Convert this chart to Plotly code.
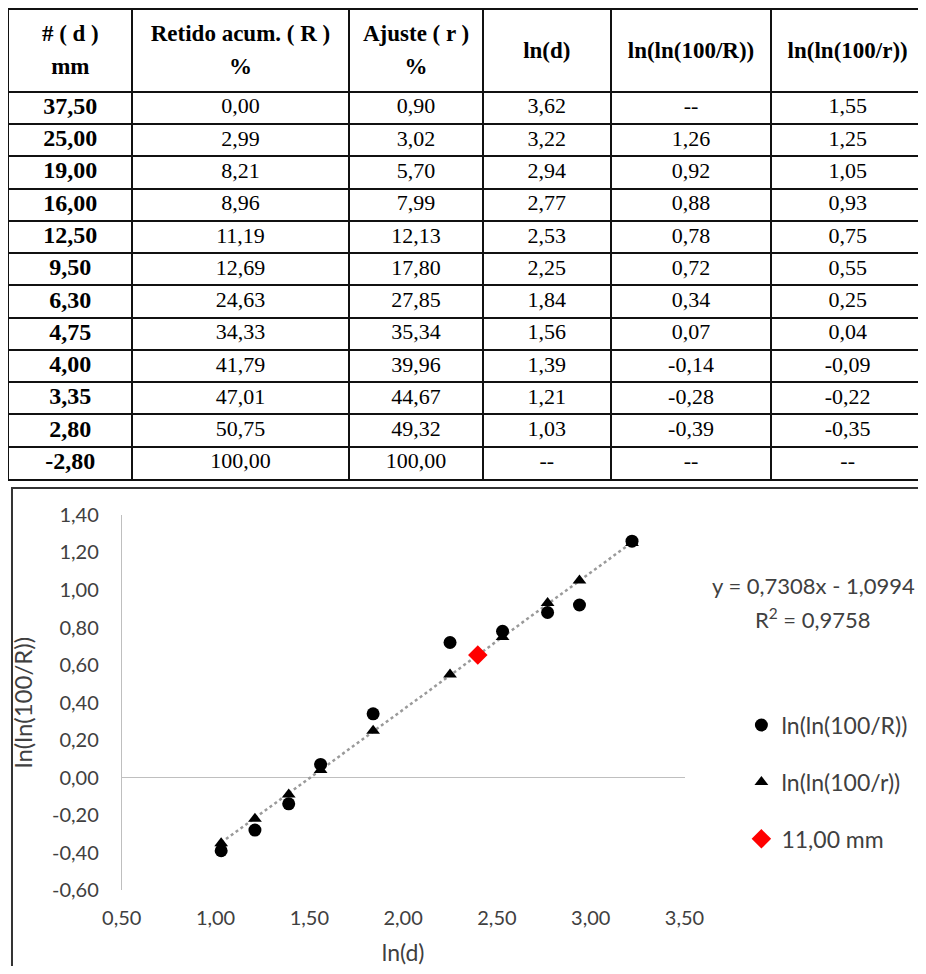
import math
import plotly.graph_objects as go

# page is rendered with the browser's 8px body margin; compensate for it
OFF = 8
PAGE_W, PAGE_H = 926, 974
W, H = PAGE_W - OFF, PAGE_H - 2 * OFF

# ---- data ----
sizes_mm = [37.50, 25.00, 19.00, 16.00, 12.50, 9.50, 6.30, 4.75, 4.00, 3.35, 2.80, -2.80]
retido_R = [0.00, 2.99, 8.21, 8.96, 11.19, 12.69, 24.63, 34.33, 41.79, 47.01, 50.75, 100.00]
ajuste_r = [0.90, 3.02, 5.70, 7.99, 12.13, 17.80, 27.85, 35.34, 39.96, 44.67, 49.32, 100.00]
ln_d = [3.62, 3.22, 2.94, 2.77, 2.53, 2.25, 1.84, 1.56, 1.39, 1.21, 1.03, None]
lnln_R = [None, 1.26, 0.92, 0.88, 0.78, 0.72, 0.34, 0.07, -0.14, -0.28, -0.39, None]
lnln_r = [1.55, 1.25, 1.05, 0.93, 0.75, 0.55, 0.25, 0.04, -0.09, -0.22, -0.35, None]

header_labels = ["# ( d )<br>mm", "Retido acum. ( R )<br>%", "Ajuste ( r )<br>%",
                 "ln(d)", "ln(ln(100/R))", "ln(ln(100/r))"]

x_ticks = [0.50, 1.00, 1.50, 2.00, 2.50, 3.00, 3.50]
y_ticks = [-0.60, -0.40, -0.20, 0.00, 0.20, 0.40, 0.60, 0.80, 1.00, 1.20, 1.40]

trend_slope = 0.7308
trend_intercept = -1.0994
trend_r2 = 0.9758
selected_size = 11.00

series_names = ["ln(ln(100/R))", "ln(ln(100/r))", "11,00 mm"]

# ---- layout constants (page pixels) ----
col_widths = [123, 218, 134, 128, 161, 153]
header_h = 82
row_h = 32.33
TABLE_LEFT, TABLE_TOP = 9, 8


def px(x):
    return (x - OFF) / W


def py(y):
    return 1 - (y - OFF) / H


def fmt(v, nd=2):
    return "--" if v is None else f"{v:.{nd}f}".replace(".", ",")


fig = go.Figure()

# ---- table drawn on its own axis pair ----
bounds_x = [0]
for w in col_widths:
    bounds_x.append(bounds_x[-1] + w)
n_rows = len(sizes_mm)
bounds_y = [0, header_h] + [header_h + row_h * (i + 1) for i in range(n_rows)]
table_w = bounds_x[-1]
table_h = bounds_y[-1]
col_centers = [(bounds_x[j] + bounds_x[j + 1]) / 2 for j in range(len(col_widths))]

columns = [sizes_mm, retido_R, ajuste_r, ln_d, lnln_R, lnln_r]

tx, ty, tt, ts = [], [], [], []
for j, lab in enumerate(header_labels):
    parts = lab.split("<br>")
    offs = [0.0] if len(parts) == 1 else [-16.5, 16.5]
    for p, o in zip(parts, offs):
        tx.append(col_centers[j])
        ty.append(header_h / 2 + o + 1)
        tt.append(f"<b>{p}</b>")
        ts.append(23)
for j, col in enumerate(columns):
    for i, v in enumerate(col):
        tx.append(col_centers[j])
        ty.append(header_h + row_h * (i + 0.5))
        tt.append(f"<b>{fmt(v)}</b>" if j == 0 else fmt(v))
        ts.append(24 if j == 0 else 22)

fig.add_trace(go.Scatter(
    x=tx, y=ty, text=tt, mode="text", xaxis="x2", yaxis="y2",
    textposition="middle center", showlegend=False, hoverinfo="skip",
    cliponaxis=False,
    textfont=dict(family="Liberation Serif", size=ts, color="black"),
))

# ---- scatter chart ----
xs_R = [x for x, y in zip(ln_d, lnln_R) if x is not None and y is not None]
ys_R = [y for x, y in zip(ln_d, lnln_R) if x is not None and y is not None]
xs_r = [x for x, y in zip(ln_d, lnln_r) if x is not None and y is not None]
ys_r = [y for x, y in zip(ln_d, lnln_r) if x is not None and y is not None]

trend_x = [min(xs_R), max(xs_R)]
trend_y = [trend_slope * x + trend_intercept for x in trend_x]

fig.add_trace(go.Scatter(
    x=trend_x, y=trend_y, mode="lines", showlegend=False, hoverinfo="skip",
    line=dict(color="#9a9a9a", width=2.5, dash="dot"),
))
fig.add_trace(go.Scatter(
    x=xs_R, y=ys_R, mode="markers", name=series_names[0], legendgroup="a",
    marker=dict(symbol="circle", size=13, color="black"),
))
fig.add_trace(go.Scatter(
    x=xs_r, y=ys_r, mode="markers", name=series_names[1], legendgroup="b",
    marker=dict(symbol="triangle-up", size=12, color="black"),
))
sel_x = math.log(selected_size)
sel_y = trend_slope * sel_x + trend_intercept
fig.add_trace(go.Scatter(
    x=[sel_x], y=[sel_y], mode="markers", name=series_names[2], legendgroup="c",
    marker=dict(symbol="diamond", size=15, color="#ff0000"),
))

chart_font = "Lato"
txt_col = "#404040"

fig.add_annotation(
    xref="paper", yref="paper", x=px(815), y=py(585), xanchor="center", yanchor="middle",
    text=f"y = {fmt(trend_slope, 4)}x - {fmt(-trend_intercept, 4)}",
    showarrow=False, font=dict(family=chart_font, size=22, color=txt_col),
)
fig.add_annotation(
    xref="paper", yref="paper", x=px(815), y=py(618), xanchor="center", yanchor="middle",
    text="R<sup>2</sup> = " + fmt(trend_r2, 4),
    showarrow=False, font=dict(family=chart_font, size=22, color=txt_col),
)

# chart frame
fig.add_shape(type="rect", xref="paper", yref="paper",
              x0=px(12), x1=1.01, y0=-0.01, y1=py(487),
              line=dict(color="#333333", width=2), fillcolor="rgba(0,0,0,0)", layer="below")

fig.update_layout(
    width=W, height=H,
    margin=dict(l=0, r=0, t=0, b=0),
    paper_bgcolor="white", plot_bgcolor="white",
    font=dict(family=chart_font, size=20, color=txt_col),
    showlegend=True,
    legend=dict(
        x=px(743), y=py(703), xanchor="left", yanchor="top",
        font=dict(family=chart_font, size=23, color=txt_col),
        tracegroupgap=24, itemwidth=30, bgcolor="rgba(0,0,0,0)",
    ),
    xaxis=dict(
        domain=[px(122), px(686)], range=[0.5, 3.5],
        tickvals=x_ticks, ticktext=[fmt(v) for v in x_ticks],
        showgrid=False, zeroline=False, showline=False,
        ticks="", anchor="y", automargin=False, ticklabelstandoff=14,
        tickfont=dict(size=20, color=txt_col),
        title=dict(text="ln(d)", standoff=20, font=dict(size=23, color=txt_col)),
    ),
    yaxis=dict(
        domain=[py(890), py(514)], range=[-0.6, 1.4],
        tickvals=y_ticks, ticktext=[fmt(v) for v in y_ticks],
        showgrid=False,
        zeroline=True, zerolinecolor="#bfbfbf", zerolinewidth=1,
        showline=True, linecolor="#bfbfbf", linewidth=1,
        ticks="", anchor="x", automargin=False, ticklabelstandoff=18,
        tickfont=dict(size=20, color=txt_col),
        title=dict(text="ln(ln(100/R))", standoff=14, font=dict(size=24, color=txt_col)),
    ),
    xaxis2=dict(
        domain=[px(TABLE_LEFT), min(1.0, px(TABLE_LEFT + table_w))], range=[0, table_w],
        anchor="y2", tickvals=bounds_x, showticklabels=False, ticks="",
        showgrid=True, gridcolor="#111111", gridwidth=2, zeroline=False,
        showline=True, mirror=True, linecolor="#111111", linewidth=2,
        fixedrange=True,
    ),
    yaxis2=dict(
        domain=[py(TABLE_TOP + table_h), py(TABLE_TOP)], range=[table_h, 0],
        anchor="x2", tickvals=bounds_y, showticklabels=False, ticks="",
        showgrid=True, gridcolor="#111111", gridwidth=2, zeroline=False,
        showline=True, mirror=True, linecolor="#111111", linewidth=2,
        fixedrange=True,
    ),
)

fig.write_html("out.html")
